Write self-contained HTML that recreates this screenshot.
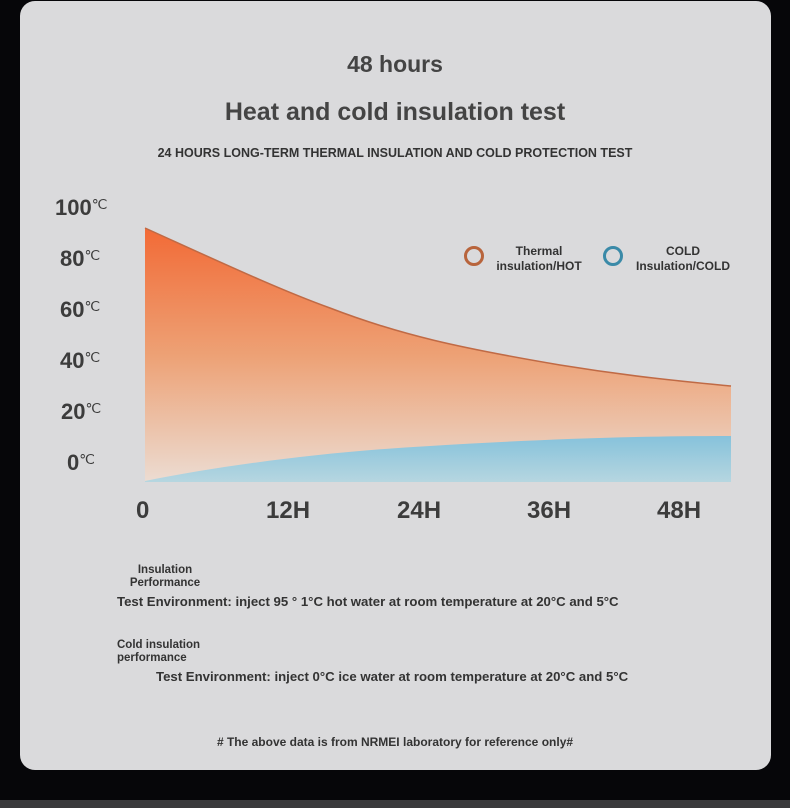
<!DOCTYPE html>
<html><head><style>
body{margin:0;width:790px;height:808px;background:#060609;position:relative;overflow:hidden;font-family:"Liberation Sans",sans-serif;}
.card{position:absolute;left:20px;top:1px;width:751px;height:769px;border-radius:15px;background:#dadadc;}
.strip{position:absolute;left:0;top:800px;width:790px;height:8px;background:#3a3a3c;}
.t{position:absolute;color:#444;font-weight:bold;white-space:nowrap;}
.c{text-align:center;left:0;width:790px;}
.y{font-size:22px;color:#3c3c3c;}
.y sup{font-size:14px;vertical-align:6px;font-weight:normal}
.x{font-size:24px;color:#3c3c3c;}
.s{font-size:12px;color:#333;}
.m{font-size:13.2px;color:#333;}
</style></head><body>
<div class="card"></div>
<div class="strip"></div>
<div class="t c" style="top:51px;font-size:23px;">48 hours</div>
<div class="t c" style="top:98px;font-size:25px;">Heat and cold insulation test</div>
<div class="t c" style="top:146px;font-size:12.5px;color:#333;">24 HOURS LONG-TERM THERMAL INSULATION AND COLD PROTECTION TEST</div>
<div class="t y" style="left:55px;top:195px">100<sup>℃</sup></div>
<div class="t y" style="left:60px;top:246px">80<sup>℃</sup></div>
<div class="t y" style="left:60px;top:297px">60<sup>℃</sup></div>
<div class="t y" style="left:60px;top:348px">40<sup>℃</sup></div>
<div class="t y" style="left:61px;top:399px">20<sup>℃</sup></div>
<div class="t y" style="left:67px;top:450px">0<sup>℃</sup></div>
<svg style="position:absolute;left:0;top:0" width="790" height="808">
<defs>
<linearGradient id="h" x1="0" y1="0" x2="0" y2="1"><stop offset="0" stop-color="#f26a36"/><stop offset="0.5" stop-color="#eda175"/><stop offset="1" stop-color="#ecdcd2"/></linearGradient>
<linearGradient id="b" x1="0" y1="0" x2="0" y2="1"><stop offset="0" stop-color="#86c2db"/><stop offset="1" stop-color="#b6d6e0"/></linearGradient>
</defs>
<path d="M145,228 C220,262 280,290 330,308 C400,335 460,348 560,365 C640,378 700,383 731,386 L731,482 L145,482 Z" fill="url(#h)"/>
<path d="M145,228 C220,262 280,290 330,308 C400,335 460,348 560,365 C640,378 700,383 731,386" fill="none" stroke="#c06a45" stroke-width="1.5"/>
<path d="M145,481 C220,466 320,452 430,446 C530,440 620,436 731,436 L731,482 L145,482 Z" fill="url(#b)"/>
<circle cx="474" cy="256" r="8.5" fill="none" stroke="#b8643c" stroke-width="3"/>
<circle cx="613" cy="256" r="8.5" fill="none" stroke="#3a8aa8" stroke-width="3"/>
</svg>
<div class="t s" style="left:491px;top:244px;width:96px;text-align:center;line-height:15px">Thermal<br>insulation/HOT</div>
<div class="t s" style="left:631px;top:244px;width:104px;text-align:center;line-height:15px">COLD<br>Insulation/COLD</div>
<div class="t x" style="left:136px;top:497px">0</div>
<div class="t x" style="left:266px;top:497px">12H</div>
<div class="t x" style="left:397px;top:497px">24H</div>
<div class="t x" style="left:527px;top:497px">36H</div>
<div class="t x" style="left:657px;top:497px">48H</div>
<div class="t" style="left:126px;top:564px;font-size:11.5px;color:#333;text-align:center;line-height:13px;width:78px">Insulation<br>Performance</div>
<div class="t m" style="left:117px;top:594px">Test Environment: inject 95 ° 1°C hot water at room temperature at 20°C and 5°C</div>
<div class="t" style="left:117px;top:639px;font-size:11.5px;color:#333;line-height:13px">Cold insulation<br>performance</div>
<div class="t m" style="left:156px;top:669px">Test Environment: inject 0°C ice water at room temperature at 20°C and 5°C</div>
<div class="t c" style="top:735px;font-size:12px;color:#333;"># The above data is from NRMEI laboratory for reference only#</div>
</body></html>
